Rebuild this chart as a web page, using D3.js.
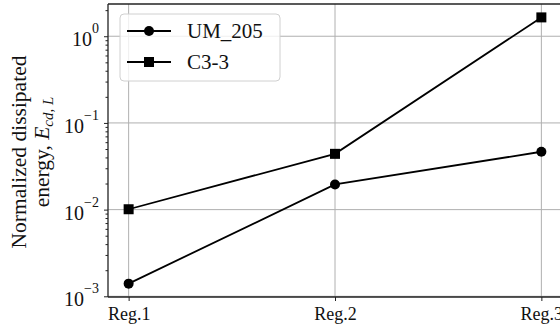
<!DOCTYPE html>
<html>
<head>
<meta charset="utf-8">
<script src="https://cdnjs.cloudflare.com/ajax/libs/d3/7.8.5/d3.min.js"></script>
<style>
  body { margin: 0; background: #fff; }
  svg { display: block; font-family: "Liberation Serif", "DejaVu Serif", serif; }
</style>
</head>
<body>
<svg width="560" height="330"></svg>
<script>
var categories = ["Reg.1", "Reg.2", "Reg.3"];
var seriesNames = ["UM_205", "C3-3"];
var um205 = [0.0014, 0.0195, 0.0465];
var c33 = [0.0101, 0.044, 1.65];
var yMajor = [1e-3, 1e-2, 1e-1, 1e0];
var yExp = ["\u22123", "\u22122", "\u22121", "0"];

var pLeft = 108, pRight = 562, pTop = 4, pBottom = 297;

var svg = d3.select("svg");

var x = d3.scaleLinear()
    .domain([-0.1, categories.length - 1 + 0.1])
    .range([pLeft, pRight]);

var y = d3.scaleLog()
    .domain([Math.pow(10, -3.008), Math.pow(10, 0.372)])
    .range([pBottom, pTop]);

// minor ticks 2..9 per decade
var minor = [];
yMajor.forEach(function (m) {
    for (var k = 2; k < 10; k++) {
        var v = m * k;
        if (v >= y.domain()[0] && v <= y.domain()[1]) minor.push(v);
    }
});

// grid
svg.append("g")
    .selectAll("line")
    .data(categories)
    .enter().append("line")
    .attr("x1", function (d, i) { return x(i); })
    .attr("x2", function (d, i) { return x(i); })
    .attr("y1", pTop).attr("y2", pBottom)
    .attr("stroke", "#b0b0b0").attr("stroke-width", 1);

svg.append("g")
    .selectAll("line")
    .data(yMajor)
    .enter().append("line")
    .attr("x1", pLeft).attr("x2", pRight)
    .attr("y1", function (d) { return y(d); })
    .attr("y2", function (d) { return y(d); })
    .attr("stroke", "#b0b0b0").attr("stroke-width", 1);

// y axis major
var yAxis = svg.append("g")
    .attr("transform", "translate(" + pLeft + ",0)")
    .call(d3.axisLeft(y).tickValues(yMajor).tickSize(4).tickFormat(""));
yAxis.select(".domain").remove();

// y axis minor
var yMinor = svg.append("g")
    .attr("transform", "translate(" + pLeft + ",0)")
    .call(d3.axisLeft(y).tickValues(minor).tickSize(2.5).tickFormat(""));
yMinor.select(".domain").remove();

svg.selectAll(".tick line").attr("stroke", "#222").attr("stroke-width", 1);
svg.selectAll(".tick text").remove();

// y tick labels, 10^n
var yl = svg.append("g").selectAll("text")
    .data(yMajor)
    .enter().append("text")
    .attr("x", 99)
    .attr("y", function (d) { return y(d) + 10; })
    .attr("text-anchor", "end")
    .style("font-size", "20px")
    .attr("fill", "#111");
yl.append("tspan").text("10");
yl.append("tspan")
    .attr("dy", -13)
    .style("font-size", "14px")
    .text(function (d, i) { return yExp[i]; });

// x axis
var xAxis = svg.append("g")
    .attr("transform", "translate(0," + pBottom + ")")
    .call(d3.axisBottom(x)
        .tickValues(d3.range(categories.length))
        .tickSize(4)
        .tickFormat(function (d) { return categories[d]; }));
xAxis.select(".domain").remove();
xAxis.selectAll(".tick line").attr("stroke", "#222");
xAxis.selectAll("text")
    .attr("y", 23)
    .attr("dy", null)
    .style("font-size", "18px")
    .style("font-family", "Liberation Serif, serif")
    .attr("fill", "#111");

// spines
[[pLeft, pTop, pLeft, pBottom], [pLeft, pBottom, pRight, pBottom],
 [pLeft, pTop, pRight, pTop], [pRight, pTop, pRight, pBottom]].forEach(function (s) {
    svg.append("line")
        .attr("x1", s[0]).attr("y1", s[1]).attr("x2", s[2]).attr("y2", s[3])
        .attr("stroke", "#222").attr("stroke-width", 1.3);
});

// series
var line = d3.line()
    .x(function (d, i) { return x(i); })
    .y(function (d) { return y(d); });

[um205, c33].forEach(function (s, si) {
    svg.append("path")
        .datum(s)
        .attr("d", line)
        .attr("fill", "none")
        .attr("stroke", "#000")
        .attr("stroke-width", 1.8);
    var g = svg.append("g");
    if (si === 0) {
        g.selectAll("circle").data(s).enter().append("circle")
            .attr("cx", function (d, i) { return x(i); })
            .attr("cy", function (d) { return y(d); })
            .attr("r", 5).attr("fill", "#000");
    } else {
        g.selectAll("rect").data(s).enter().append("rect")
            .attr("x", function (d, i) { return x(i) - 5; })
            .attr("y", function (d) { return y(d) - 5; })
            .attr("width", 10).attr("height", 10).attr("fill", "#000");
    }
});

// legend
var lg = svg.append("g");
lg.append("rect")
    .attr("x", 120).attr("y", 14).attr("width", 160).attr("height", 67)
    .attr("rx", 4)
    .attr("fill", "#fff").attr("fill-opacity", 0.8)
    .attr("stroke", "#d0d0d0").attr("stroke-width", 1);

seriesNames.forEach(function (name, i) {
    var ly = 31 + i * 31;
    lg.append("line")
        .attr("x1", 127).attr("x2", 171).attr("y1", ly).attr("y2", ly)
        .attr("stroke", "#000").attr("stroke-width", 1.8);
    if (i === 0) {
        lg.append("circle").attr("cx", 149).attr("cy", ly).attr("r", 5).attr("fill", "#000");
    } else {
        lg.append("rect").attr("x", 144).attr("y", ly - 5).attr("width", 10).attr("height", 10).attr("fill", "#000");
    }
    lg.append("text")
        .attr("x", 187).attr("y", ly + 7)
        .style("font-size", "21px")
        .attr("fill", "#111")
        .text(name);
});

// y label
var ylab = svg.append("g").attr("transform", "translate(0,152) rotate(-90)");
ylab.append("text")
    .attr("x", 0).attr("y", 26)
    .attr("text-anchor", "middle")
    .style("font-size", "21.5px")
    .attr("fill", "#111")
    .text("Normalized dissipated");
var t2 = ylab.append("text")
    .attr("x", 0).attr("y", 49)
    .attr("text-anchor", "middle")
    .style("font-size", "21.5px")
    .attr("fill", "#111");
t2.append("tspan").text("energy, ");
t2.append("tspan").style("font-style", "italic").text("E");
t2.append("tspan").attr("dy", 4).style("font-style", "italic").style("font-size", "15px").text("cd, L");
</script>
</body>
</html>
